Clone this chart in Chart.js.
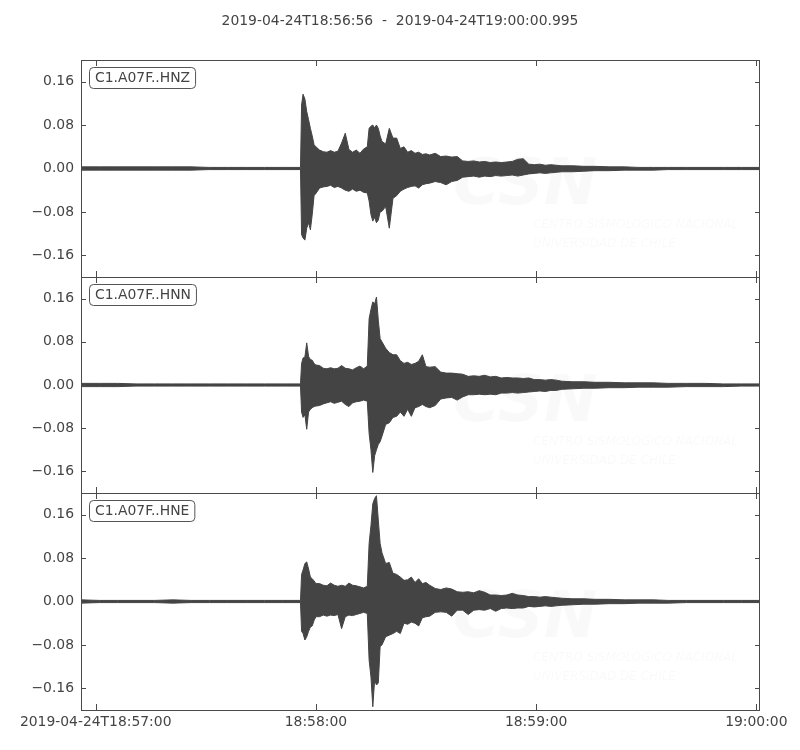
<!DOCTYPE html>
<html>
<head>
<meta charset="utf-8">
<title>C1.A07F waveforms</title>
<script src="https://cdn.jsdelivr.net/npm/chart.js@4.4.1/dist/chart.umd.min.js"></script>
<style>
  body { margin: 0; background: #fff; }
  #wrap { position: relative; width: 800px; height: 750px; }
  #wrap canvas { position: absolute; left: 0; top: 0; }
</style>
</head>
<body>
<div id="wrap">
  <canvas id="hnz" width="800" height="750"></canvas>
  <canvas id="hnn" width="800" height="750"></canvas>
  <canvas id="hne" width="800" height="750"></canvas>
</div>
<script>
const title = '2019-04-24T18:56:56  -  2019-04-24T19:00:00.995';
const channels = ['C1.A07F..HNZ', 'C1.A07F..HNN', 'C1.A07F..HNE'];

// seconds after 18:56:56, envelope (max / min)
const seconds = [0, 5, 10, 15, 20, 25, 30, 35, 40, 45, 50, 55, 59.8,
    60.1, 60.5, 61, 61.5, 62, 62.5, 63, 63.5, 64,
    65, 66, 67, 68, 69, 70, 71, 72, 73, 74, 75, 76, 77, 78,
    78.5, 79, 79.5, 80, 80.5, 81, 81.5,
    82, 83, 84, 85, 86, 87, 88, 89, 90, 91, 92, 93, 94, 95,
    96.5, 98, 99.5, 101, 102.5, 104, 105.5, 107, 108.5, 110, 111.5, 113,
    114.5, 116, 117.5, 119, 120.5, 122, 123.5, 125, 126.5, 128, 129.5, 131,
    134, 137, 140, 144, 148, 152, 156, 160, 165, 170, 175, 180, 185];

const tickSeconds = [4, 64, 124, 184];
const tickLabels = ['2019-04-24T18:57:00', '18:58:00', '18:59:00', '19:00:00'];
const yTicks = [-0.16, -0.08, 0, 0.08, 0.16];
const yTickLabels = ['\u22120.16', '\u22120.08', '0.00', '0.08', '0.16'];

const hnzMax = [0.003, 0.003, 0.003, 0.003, 0.003, 0.003, 0.003, 0.002, 0.002, 0.002, 0.002, 0.002, 0.002,
    0.117, 0.137, 0.128, 0.105, 0.090, 0.074, 0.060, 0.044, 0.040,
    0.034, 0.031, 0.030, 0.033, 0.030, 0.032, 0.047, 0.065, 0.035, 0.030, 0.034, 0.028, 0.036, 0.040,
    0.074, 0.078, 0.080, 0.075, 0.080, 0.074, 0.060,
    0.050, 0.045, 0.074, 0.056, 0.056, 0.037, 0.040, 0.030, 0.033, 0.028, 0.030, 0.026, 0.027, 0.025,
    0.028, 0.022, 0.023, 0.021, 0.022, 0.014, 0.013, 0.014, 0.012, 0.013, 0.011, 0.012,
    0.011, 0.012, 0.013, 0.017, 0.018, 0.008, 0.007, 0.008, 0.006, 0.007, 0.006, 0.005,
    0.005, 0.004, 0.004, 0.003, 0.003, 0.002, 0.002, 0.002, 0.002, 0.002, 0.002, 0.002, 0.002];
const hnzMin = [-0.003, -0.003, -0.003, -0.003, -0.003, -0.003, -0.003, -0.002, -0.002, -0.002, -0.002, -0.002, -0.002,
    -0.122, -0.128, -0.132, -0.110, -0.100, -0.113, -0.085, -0.050, -0.046,
    -0.036, -0.034, -0.033, -0.031, -0.035, -0.033, -0.036, -0.040, -0.042, -0.038, -0.042, -0.040, -0.044, -0.045,
    -0.060, -0.085, -0.097, -0.090, -0.100, -0.095, -0.080,
    -0.079, -0.070, -0.110, -0.055, -0.050, -0.042, -0.038, -0.035, -0.033, -0.032, -0.036, -0.030, -0.028, -0.027,
    -0.024, -0.026, -0.030, -0.024, -0.022, -0.016, -0.015, -0.014, -0.016, -0.014, -0.015, -0.013,
    -0.014, -0.013, -0.012, -0.014, -0.012, -0.010, -0.009, -0.008, -0.009, -0.008, -0.007, -0.006,
    -0.006, -0.005, -0.004, -0.004, -0.003, -0.003, -0.003, -0.002, -0.002, -0.002, -0.002, -0.002, -0.002];

const hnnMax = [0.003, 0.003, 0.003, 0.002, 0.002, 0.002, 0.002, 0.002, 0.002, 0.002, 0.002, 0.002, 0.002,
    0.040, 0.050, 0.052, 0.078, 0.053, 0.047, 0.046, 0.040, 0.037,
    0.036, 0.031, 0.030, 0.032, 0.030, 0.031, 0.036, 0.031, 0.030, 0.028, 0.032, 0.035, 0.030, 0.035,
    0.123, 0.140, 0.154, 0.150, 0.163, 0.120, 0.086,
    0.080, 0.068, 0.060, 0.056, 0.056, 0.045, 0.040, 0.042, 0.038, 0.040, 0.044, 0.056, 0.034, 0.033,
    0.034, 0.024, 0.022, 0.022, 0.021, 0.020, 0.016, 0.017, 0.016, 0.018, 0.015, 0.016,
    0.013, 0.014, 0.013, 0.013, 0.012, 0.013, 0.010, 0.010, 0.009, 0.010, 0.009, 0.007,
    0.006, 0.006, 0.005, 0.005, 0.004, 0.004, 0.004, 0.003, 0.003, 0.003, 0.002, 0.002, 0.002];
const hnnMin = [-0.003, -0.003, -0.003, -0.002, -0.002, -0.002, -0.002, -0.002, -0.002, -0.002, -0.002, -0.002, -0.002,
    -0.050, -0.060, -0.055, -0.082, -0.050, -0.045, -0.042, -0.040, -0.039,
    -0.038, -0.035, -0.033, -0.031, -0.034, -0.032, -0.030, -0.036, -0.040, -0.033, -0.031, -0.030, -0.028, -0.030,
    -0.090, -0.120, -0.162, -0.131, -0.120, -0.110, -0.105,
    -0.095, -0.073, -0.070, -0.060, -0.058, -0.050, -0.058, -0.045, -0.058, -0.042, -0.040, -0.036, -0.040, -0.042,
    -0.038, -0.026, -0.024, -0.023, -0.028, -0.022, -0.018, -0.018, -0.017, -0.018, -0.017, -0.018,
    -0.015, -0.015, -0.014, -0.015, -0.014, -0.013, -0.012, -0.011, -0.012, -0.010, -0.010, -0.008,
    -0.007, -0.006, -0.006, -0.005, -0.005, -0.004, -0.004, -0.004, -0.003, -0.003, -0.003, -0.002, -0.002];

const hneMax = [0.003, 0.002, 0.002, 0.002, 0.002, 0.003, 0.002, 0.002, 0.002, 0.002, 0.002, 0.002, 0.002,
    0.050, 0.058, 0.070, 0.073, 0.060, 0.045, 0.042, 0.038, 0.033,
    0.033, 0.030, 0.029, 0.034, 0.030, 0.028, 0.030, 0.028, 0.034, 0.030, 0.029, 0.027, 0.025, 0.028,
    0.107, 0.140, 0.180, 0.190, 0.195, 0.150, 0.107,
    0.090, 0.070, 0.072, 0.052, 0.050, 0.045, 0.039, 0.040, 0.045, 0.035, 0.042, 0.033, 0.035, 0.030,
    0.024, 0.022, 0.025, 0.023, 0.018, 0.017, 0.018, 0.016, 0.020, 0.017, 0.012, 0.012,
    0.011, 0.012, 0.015, 0.012, 0.011, 0.009, 0.009, 0.008, 0.009, 0.008, 0.007, 0.006,
    0.005, 0.005, 0.004, 0.004, 0.003, 0.003, 0.003, 0.002, 0.002, 0.002, 0.002, 0.002, 0.002];
const hneMin = [-0.003, -0.002, -0.002, -0.002, -0.002, -0.003, -0.002, -0.002, -0.002, -0.002, -0.002, -0.002, -0.002,
    -0.055, -0.059, -0.071, -0.065, -0.055, -0.047, -0.045, -0.035, -0.028,
    -0.028, -0.025, -0.027, -0.025, -0.026, -0.024, -0.050, -0.028, -0.025, -0.026, -0.024, -0.022, -0.020, -0.022,
    -0.108, -0.139, -0.194, -0.145, -0.154, -0.150, -0.083,
    -0.080, -0.065, -0.062, -0.059, -0.055, -0.059, -0.040, -0.042, -0.038, -0.040, -0.045, -0.030, -0.028, -0.027,
    -0.020, -0.019, -0.020, -0.027, -0.016, -0.016, -0.024, -0.016, -0.015, -0.016, -0.013, -0.018,
    -0.013, -0.012, -0.013, -0.012, -0.012, -0.009, -0.010, -0.009, -0.008, -0.009, -0.008, -0.007,
    -0.006, -0.005, -0.005, -0.004, -0.004, -0.003, -0.003, -0.003, -0.002, -0.002, -0.002, -0.002, -0.002];

const ink = '#444444';
const fontFamily = '"DejaVu Sans", sans-serif';

Chart.defaults.font.family = fontFamily;
Chart.defaults.font.size = 13.9;
Chart.defaults.color = ink;

const panelPlugin = {
    id: 'panel',
    beforeDatasetsDraw(chart) {
        // faint logo watermark behind the trace
        const { ctx, chartArea: a } = chart;
        ctx.save();
        ctx.fillStyle = 'rgba(0, 0, 0, 0.022)';
        ctx.font = 'italic bold 64px ' + fontFamily;
        ctx.textAlign = 'left';
        ctx.textBaseline = 'alphabetic';
        ctx.fillText('CSN', a.left + 372, a.top + 144);
        ctx.font = 'italic 12px ' + fontFamily;
        ctx.fillText('CENTRO SISMOLOGICO NACIONAL', a.left + 452, a.top + 168);
        ctx.fillText('UNIVERSIDAD DE CHILE', a.left + 452, a.top + 187);
        ctx.restore();
    },
    afterDraw(chart, args, opts) {
        const { ctx, chartArea: a, scales } = chart;
        ctx.save();
        ctx.strokeStyle = '#4a4a4a';
        ctx.lineWidth = 1;
        ctx.strokeRect(a.left + 0.5, a.top + 0.5, a.right - a.left - 1, a.bottom - a.top);

        ctx.beginPath();
        yTicks.forEach((v) => {
            const py = Math.round(scales.y.getPixelForValue(v)) + 0.5;
            ctx.moveTo(a.left, py);
            ctx.lineTo(a.left + 5, py);
            ctx.moveTo(a.right - 5, py);
            ctx.lineTo(a.right, py);
        });
        tickSeconds.forEach((t) => {
            const px = Math.round(scales.x.getPixelForValue(t)) + 0.5;
            ctx.moveTo(px, a.bottom);
            ctx.lineTo(px, a.bottom - 6);
            ctx.moveTo(px, a.top);
            ctx.lineTo(px, a.top + 6);
        });
        ctx.stroke();

        // channel label box
        ctx.font = '13.9px ' + fontFamily;
        const w = ctx.measureText(opts.label).width + 11;
        ctx.fillStyle = '#ffffff';
        ctx.strokeStyle = '#555555';
        ctx.beginPath();
        ctx.roundRect(a.left + 8.5, a.top + 7.5, w, 21, 4);
        ctx.fill();
        ctx.stroke();
        ctx.fillStyle = ink;
        ctx.textAlign = 'left';
        ctx.textBaseline = 'middle';
        ctx.fillText(opts.label, a.left + 14, a.top + 18.5);

        if (opts.title) {
            ctx.textAlign = 'center';
            ctx.fillText(opts.title, 400, 21);
        }
        ctx.restore();
    },
};

function makePanel(id, label, maxVals, minVals, top, bottom, showX) {
    const ctx = document.getElementById(id).getContext('2d');
    const upper = seconds.map((t, i) => ({ x: t, y: maxVals[i] }));
    const lower = seconds.map((t, i) => ({ x: t, y: minVals[i] }));
    return new Chart(ctx, {
        type: 'line',
        data: {
            datasets: [
                {
                    label: label + ' max',
                    data: upper,
                    borderColor: ink,
                    backgroundColor: ink,
                    borderWidth: 1,
                    pointRadius: 0,
                    tension: 0,
                    fill: '+1',
                },
                {
                    label: label + ' min',
                    data: lower,
                    borderColor: ink,
                    backgroundColor: ink,
                    borderWidth: 1,
                    pointRadius: 0,
                    tension: 0,
                    fill: false,
                },
            ],
        },
        options: {
            responsive: false,
            animation: false,
            devicePixelRatio: 1,
            layout: { padding: { left: 0, right: 40, top: top, bottom: bottom } },
            plugins: {
                legend: { display: false },
                tooltip: { enabled: false },
                panel: { label: label, title: id === 'hnz' ? title : null },
            },
            scales: {
                x: {
                    type: 'linear',
                    min: 0,
                    max: 184.995,
                    display: showX,
                    grid: { display: false, drawTicks: false },
                    border: { display: false },
                    afterBuildTicks: (scale) => {
                        scale.ticks = tickSeconds.map((v) => ({ value: v }));
                    },
                    afterFit: (scale) => {
                        scale.height = showX ? 40 : 0;
                    },
                    ticks: {
                        autoSkip: false,
                        maxRotation: 0,
                        padding: 4,
                        callback: (value, index) => tickLabels[index],
                    },
                },
                y: {
                    type: 'linear',
                    min: -0.2,
                    max: 0.2,
                    grid: { display: false, drawTicks: false },
                    border: { display: false },
                    afterBuildTicks: (scale) => {
                        scale.ticks = yTicks.map((v) => ({ value: v }));
                    },
                    afterFit: (scale) => {
                        scale.width = 81;
                    },
                    ticks: {
                        padding: 7,
                        callback: (value, index) => yTickLabels[index],
                    },
                },
            },
        },
        plugins: [panelPlugin],
    });
}

makePanel('hnz', channels[0], hnzMax, hnzMin, 60, 473, false);
makePanel('hnn', channels[1], hnnMax, hnnMin, 277, 257, false);
makePanel('hne', channels[2], hneMax, hneMin, 493, 0, true);
</script>
</body>
</html>
